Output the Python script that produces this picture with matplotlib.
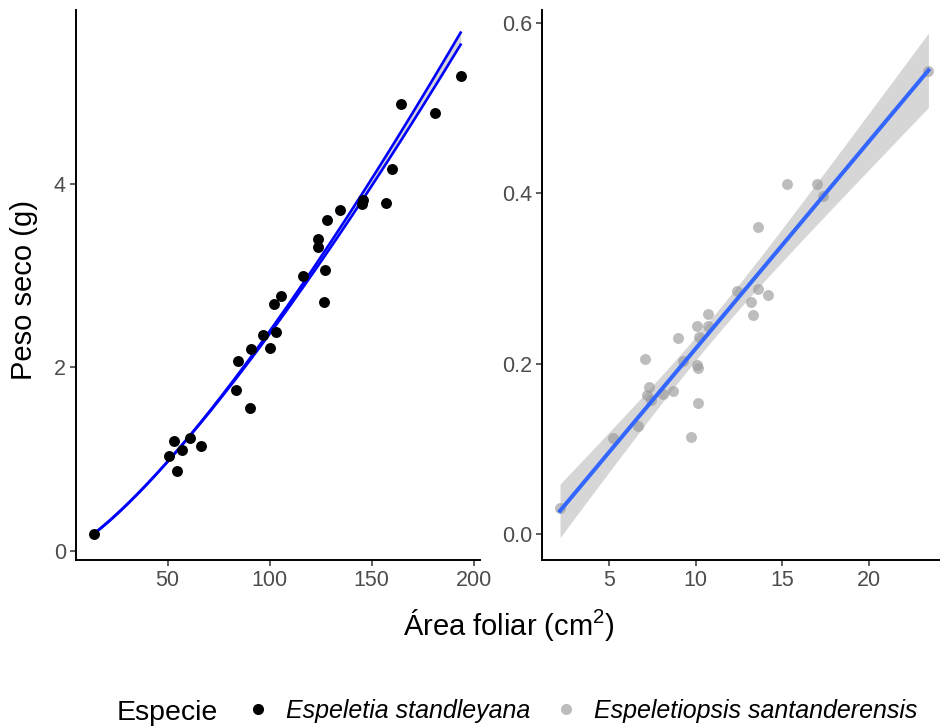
import numpy as np
import matplotlib
matplotlib.use("Agg")
import matplotlib.pyplot as plt
from matplotlib.lines import Line2D

plt.rcParams['font.family'] = ['Liberation Sans', 'DejaVu Sans']
plt.rcParams['mathtext.fontset'] = 'custom'
plt.rcParams['mathtext.rm'] = 'Liberation Sans'
plt.rcParams['mathtext.it'] = 'Liberation Sans:italic'

# ---- data: Espeletia standleyana ----
es_area = [14.0, 50.6, 53.2, 54.8, 57.1, 60.8, 66.2, 83.4, 84.3, 90.2, 90.8,
           96.8, 100.2, 103.0, 102.3, 105.3, 126.4, 116.1, 127.0, 123.6, 123.6,
           128.3, 134.3, 145.0, 145.5, 157.2, 159.8, 164.1, 180.9, 193.5]
es_peso = [0.18, 1.03, 1.20, 0.87, 1.10, 1.23, 1.14, 1.75, 2.07, 1.56, 2.20,
           2.35, 2.21, 2.38, 2.69, 2.78, 2.71, 2.99, 3.06, 3.40, 3.31,
           3.60, 3.71, 3.78, 3.82, 3.79, 4.16, 4.87, 4.77, 5.17]

# power-model fits (peso = a * area^b), two fitted curves
fit_a = [0.00642, 0.00601]
fit_b = [1.283, 1.300]

# ---- data: Espeletiopsis santanderensis ----
ss_area = [2.17, 5.25, 6.69, 7.08, 7.33, 7.18, 7.40, 8.14, 8.72, 9.00, 9.29,
           9.72, 10.07, 10.13, 10.13, 10.10, 10.22, 10.70, 10.74, 12.40, 13.19,
           13.34, 13.63, 14.17, 13.59, 15.27, 17.00, 17.39, 23.46]
ss_peso = [0.031, 0.113, 0.127, 0.206, 0.173, 0.163, 0.158, 0.165, 0.168, 0.230,
           0.203, 0.114, 0.199, 0.195, 0.154, 0.244, 0.232, 0.259, 0.244, 0.285,
           0.272, 0.257, 0.288, 0.281, 0.360, 0.411, 0.411, 0.397, 0.543]

species = ["Espeletia standleyana", "Espeletiopsis santanderensis"]
xlabel = "Área foliar (cm$^2$)"
ylabel = "Peso seco (g)"
legend_title = "Especie"

W, H = 940, 728
fig = plt.figure(figsize=(W / 100, H / 100), dpi=100)

def fr(x0, y0, x1, y1):
    return [x0 / W, 1 - y1 / H, (x1 - x0) / W, (y1 - y0) / H]

ax1 = fig.add_axes(fr(75.7, 10, 480, 560))
ax2 = fig.add_axes(fr(541.7, 10, 939, 560))

tick_col = '#4D4D4D'
for ax in (ax1, ax2):
    for s in ('top', 'right'):
        ax.spines[s].set_visible(False)
    for s in ('left', 'bottom'):
        ax.spines[s].set_linewidth(1.4)
        ax.spines[s].set_color('black')
    ax.tick_params(axis='both', labelsize=15.5, labelcolor=tick_col,
                   color='#333333', length=4, width=1.1, pad=3)

# left panel
ex = np.array(es_area)
xs = np.linspace(ex.min(), ex.max(), 200)
c1 = fit_a[0] * xs ** fit_b[0]
c2 = fit_a[1] * xs ** fit_b[1]
ax1.fill_between(xs, c1, c2, color='#999999', alpha=0.4, lw=0, zorder=2)
ax1.plot(xs, c1, color='#0000FF', lw=1.9, zorder=3)
ax1.plot(xs, c2, color='#0000FF', lw=1.9, zorder=3)
ax1.scatter(es_area, es_peso, s=62, color='black', lw=0, zorder=4)
ax1.set_xlim(5.0, 203)
ax1.set_ylim(-0.10, 5.89)
ax1.set_xticks([50, 100, 150, 200])
ax1.set_yticks([0, 2, 4])

# right panel: linear fit with 95% CI
sx = np.array(ss_area)
sy = np.array(ss_peso)
n = len(sx)
b1, b0 = np.polyfit(sx, sy, 1)
resid = sy - (b0 + b1 * sx)
sigma = np.sqrt(np.sum(resid ** 2) / (n - 2))
tq = 2.052
xr = np.linspace(sx.min(), sx.max(), 200)
yr = b0 + b1 * xr
se = sigma * np.sqrt(1 / n + (xr - sx.mean()) ** 2 / np.sum((sx - sx.mean()) ** 2))
ax2.scatter(ss_area, ss_peso, s=62, color='#9A9A9A', alpha=0.65, lw=0, zorder=2)
ax2.fill_between(xr, yr - tq * se, yr + tq * se, color='#999999', alpha=0.4, lw=0, zorder=3)
ax2.plot(xr, yr, color='#3366FF', lw=2.9, zorder=4)
ax2.set_xlim(1.11, 24.07)
ax2.set_ylim(-0.030, 0.615)
ax2.set_xticks([5, 10, 15, 20])
ax2.set_yticks([0.0, 0.2, 0.4, 0.6])
ax2.set_yticklabels(['0.0', '0.2', '0.4', '0.6'])

# labels
fig.text(509 / W, 1 - 625 / H, xlabel, ha='center', va='center', fontsize=21)
fig.text(24 / W, 1 - 290 / H, ylabel, ha='center', va='center', rotation=90, fontsize=21)

# legend
fig.text(117 / W, 1 - 713 / H, legend_title, ha='left', va='center', fontsize=20.5)
handles = [Line2D([], [], ls='', marker='o', ms=8, color='black', mec='none'),
           Line2D([], [], ls='', marker='o', ms=8, color='#9A9A9A', alpha=0.65, mec='none')]
leg = fig.legend(handles, species, loc='center left', bbox_to_anchor=(245.5 / W, 1 - 711 / H),
                 ncol=2, frameon=False, handlelength=1.0, handletextpad=0.62,
                 columnspacing=0.94, borderpad=0, borderaxespad=0,
                 prop={'size': 18, 'style': 'italic'})

fig.savefig('out.png', dpi=100)
